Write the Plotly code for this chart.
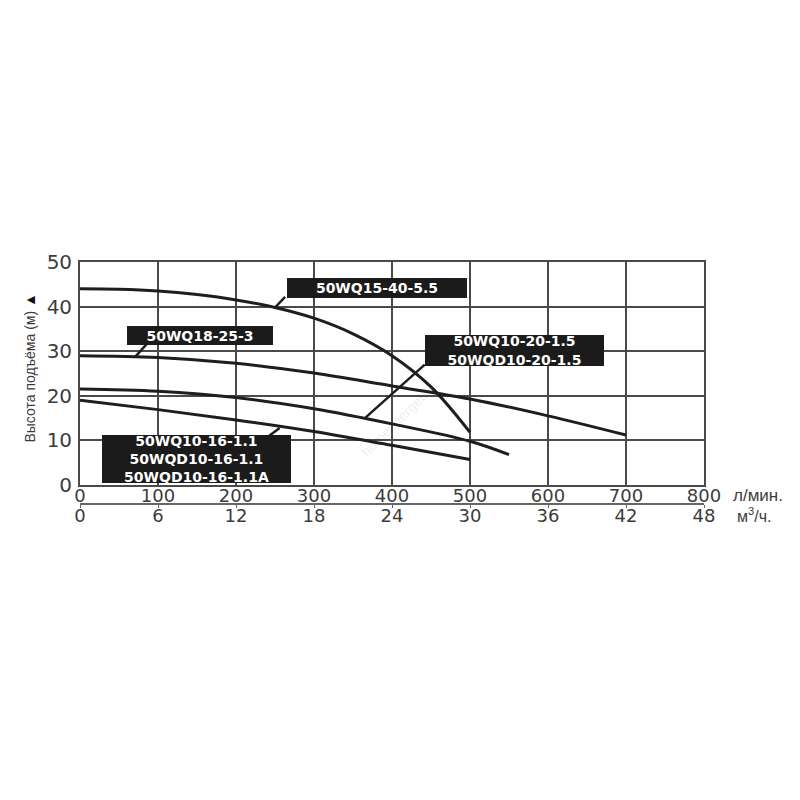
import plotly.graph_objects as go

# Q-H curves (flow in l/min, head in m)
q_15_40 = [0, 50, 100, 150, 200, 250, 300, 350, 400, 450, 500]
h_15_40 = [44.0, 43.9, 43.5, 42.7, 41.5, 39.8, 37.4, 33.9, 29.0, 22.0, 11.8]

q_18_25 = [0, 100, 200, 300, 400, 500, 600, 700]
h_18_25 = [29.0, 28.6, 27.3, 25.1, 22.2, 19.3, 15.5, 11.2]

q_10_20 = [0, 100, 200, 300, 400, 500, 550]
h_10_20 = [21.5, 21.0, 19.6, 17.1, 13.7, 9.8, 6.8]

q_10_16 = [0, 100, 200, 300, 400, 500]
h_10_16 = [19.0, 16.9, 14.6, 12.0, 8.9, 5.7]

x_ticks = [0, 100, 200, 300, 400, 500, 600, 700, 800]
x2_ticks = [0, 6, 12, 18, 24, 30, 36, 42, 48]
y_ticks = [0, 10, 20, 30, 40, 50]

labels = [
    "50WQ15-40-5.5",
    "50WQ18-25-3",
    "50WQ10-20-1.5<br>50WQD10-20-1.5",
    "50WQ10-16-1.1<br>50WQD10-16-1.1<br>50WQD10-16-1.1A",
]

LINE = "#1e1e1e"
GRID = "#4a4a4a"
TXT = "#3c3c3c"
Y_FONT = dict(family="DejaVu Sans", size=20, color=TXT)
X_FONT = dict(family="DejaVu Sans", size=18, color=TXT)

fig = go.Figure()

for q, h in [(q_15_40, h_15_40), (q_18_25, h_18_25), (q_10_20, h_10_20), (q_10_16, h_10_16)]:
    fig.add_trace(
        go.Scatter(
            x=q,
            y=h,
            mode="lines",
            line=dict(color=LINE, width=3, shape="spline", smoothing=1.0),
            hoverinfo="skip",
            showlegend=False,
        )
    )

# invisible trace so the m3/h axis gets drawn
fig.add_trace(
    go.Scatter(
        x=[x2_ticks[0], x2_ticks[-1]],
        y=[0, 0],
        xaxis="x2",
        mode="markers",
        marker=dict(opacity=0),
        hoverinfo="skip",
        showlegend=False,
    )
)

# label boxes: (text, x, y, width, height), leader lines: (x0, y0, x1, y1)
boxes = [
    (labels[0], 381, 44.2, 180, 20),
    (labels[1], 154, 33.5, 146, 19),
    (labels[2], 557, 30.1, 179, 31),
    (labels[3], 149, 5.8, 189, 48),
]
leaders = [
    (263, 42.2, 250, 39.8),
    (86, 31.7, 71, 28.8),
    (442, 27.0, 366, 15.1),
    (240, 10.7, 256, 12.8),
]

for x0, y0, x1, y1 in leaders:
    fig.add_shape(
        type="line", x0=x0, y0=y0, x1=x1, y1=y1,
        xref="x", yref="y", line=dict(color=LINE, width=2.5),
    )

for text, bx, by, bw, bh in boxes:
    fig.add_annotation(
        x=bx, y=by, xref="x", yref="y",
        text=text, showarrow=False,
        width=bw, height=bh, borderpad=0,
        bgcolor="#1b1b1b", borderwidth=0,
        font=dict(family="DejaVu Sans", size=14, color="#ffffff", weight="bold"),
        align="center",
    )

# watermark
fig.add_annotation(
    x=410, y=15, xref="x", yref="y", text="homeenergetika",
    showarrow=False, textangle=-45,
    font=dict(family="Liberation Sans", size=14, color="rgba(0,0,0,0.09)"),
)

# y title
fig.add_annotation(
    x=-0.08, y=0.56, xref="paper", yref="paper",
    xanchor="center", yanchor="middle",
    text="Высота подъёма (м) <span style='color:#111'>▲</span>",
    showarrow=False, textangle=-90,
    font=dict(family="Liberation Sans Narrow, Liberation Sans", size=14, color=TXT),
)

# units
fig.add_annotation(
    x=1.043, y=0.037, xref="paper", yref="paper", text="л/мин.",
    showarrow=False, xanchor="left", yanchor="middle",
    font=dict(family="Liberation Sans", size=17, color=TXT),
)
fig.add_annotation(
    x=1.05, y=-0.045, xref="paper", yref="paper", text="м<sup>3</sup>/ч.",
    showarrow=False, xanchor="left", yanchor="middle",
    font=dict(family="Liberation Sans", size=16, color=TXT),
)

axis_common = dict(
    showgrid=True, gridcolor=GRID, gridwidth=1.6,
    showline=True, linecolor=GRID, linewidth=1.8, mirror=True,
    zeroline=False, ticks="",
)

# page body has an 8px margin, so the figure is 784 px and margins are shifted
fig.update_layout(
    width=784,
    height=784,
    margin=dict(l=72, r=88, t=254, b=288),
    paper_bgcolor="white",
    plot_bgcolor="white",
    xaxis=dict(range=[0, 800], tickvals=x_ticks, anchor="y", tickfont=X_FONT,
               ticklabelstandoff=-7, **axis_common),
    xaxis2=dict(
        range=[0, 48], tickvals=x2_ticks, overlaying="x", anchor="free",
        position=0, side="bottom", showgrid=False, zeroline=False,
        showline=True, linecolor="#666666", linewidth=1.6,
        ticks="outside", ticklen=3, tickcolor="#666666", tickfont=X_FONT,
        ticklabelstandoff=-7,
    ),
    yaxis=dict(range=[0, 50], tickvals=y_ticks, domain=[0.0785, 1], tickfont=Y_FONT,
               ticklabelstandoff=2, **axis_common),
)

fig.write_html("out.html")
